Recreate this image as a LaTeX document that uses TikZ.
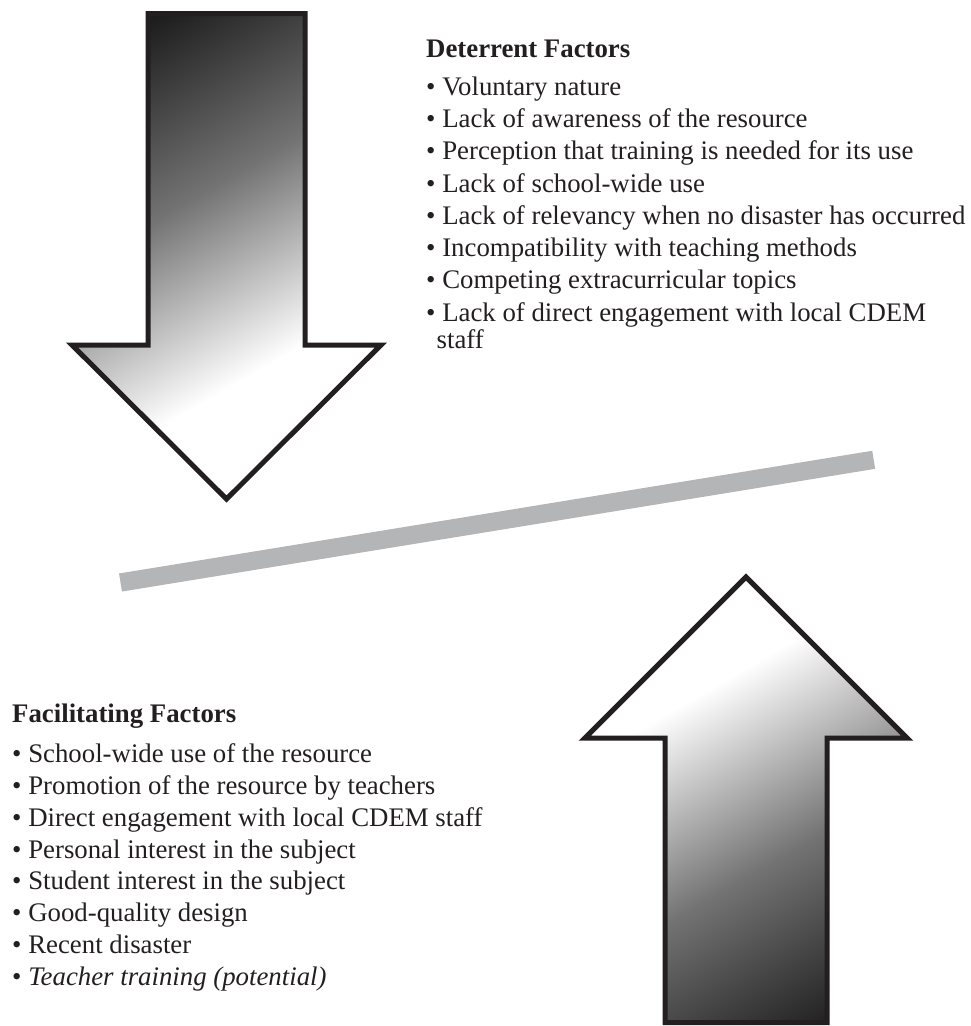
\documentclass[tikz,border=0pt]{standalone}
\usepackage{fontspec}
\setmainfont{Liberation Serif}
\definecolor{inkblack}{RGB}{35,31,32}
\definecolor{bargray}{RGB}{180,181,183}
\tikzset{
  arrowline/.style={draw=inkblack, line width=5pt, line join=miter},
  fade/.style={top color=black!90, bottom color=white, middle color=black!55},
  factors/.style={anchor=north west, inner sep=0pt, align=left, text=inkblack,
    font=\fontsize{26.8}{32.3}\selectfont},
  tiltbar/.style={draw=bargray, line width=18.3pt}
}
\newcommand{\downpath}{(148,13.5) -- (305,13.5) -- (305,345) -- (381,345) -- (226.5,499) -- (72,345) -- (148,345) -- cycle}
\newcommand{\uppath}{(665,1022.5) -- (665,738) -- (585,738) -- (746,577) -- (907,738) -- (827,738) -- (827,1022.5) -- cycle}
\begin{document}
\begin{tikzpicture}[x=1pt, y=-1pt]
    \useasboundingbox (0,0) rectangle (970,1026);

    % Down arrow
    \begin{scope}
        \clip \downpath;
        \begin{scope}[transform canvas={shift={(226,257)}, rotate=30}]
            \shade[fade] (-300pt,250pt) rectangle (300pt,-115pt);
        \end{scope}
    \end{scope}
    \draw[arrowline] \downpath;

    % Up arrow
    \begin{scope}
        \clip \uppath;
        \begin{scope}[transform canvas={shift={(746,800)}, rotate=210}]
            \shade[fade] (-300pt,250pt) rectangle (300pt,-115pt);
        \end{scope}
    \end{scope}
    \draw[arrowline] \uppath;

    % Tilted bar
    \coordinate (barleft) at (120.5,582.5);
    \coordinate (barright) at (873.7,459.8);
    \draw[tiltbar] (barleft) -- (barright);

    % Factor lists
    \node[factors] (deterrent) at (426,39.5) {\textbf{Deterrent Factors}\\[5.6pt]
        • Voluntary nature\\
        • Lack of awareness of the resource\\
        • Perception that training is needed for its use\\
        • Lack of school-wide use\\
        • Lack of relevancy when no disaster has occurred\\
        • Incompatibility with teaching methods\\
        • Competing extracurricular topics\\
        • Lack of direct engagement with local CDEM\\[-5.3pt]
        \hspace*{10.5pt}staff};
    \node[factors, font=\fontsize{26.8}{31.9}\selectfont] (facilitating) at (12,703.6) {\textbf{Facilitating Factors}\\[8pt]
        • School-wide use of the resource\\
        • Promotion of the resource by teachers\\
        • Direct engagement with local CDEM staff\\
        • Personal interest in the subject\\
        • Student interest in the subject\\
        • Good-quality design\\
        • Recent disaster\\
        • \textit{Teacher training (potential)}};
\end{tikzpicture}
\end{document}
